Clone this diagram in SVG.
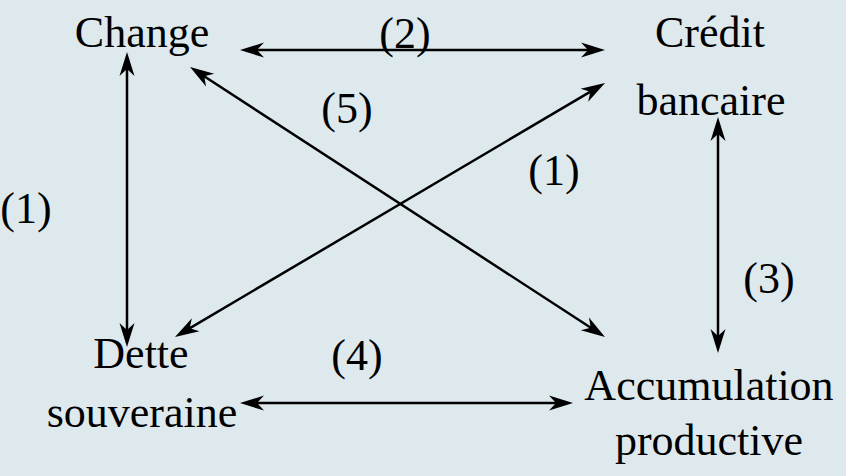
<svg xmlns="http://www.w3.org/2000/svg" width="846" height="476" viewBox="0 0 846 476">
  <style>
    .t { font-size: 44px; fill: #000; text-anchor: middle; }
    .c { stroke: #000; stroke-width: 2.5; fill: none; marker-start: url(#ah); marker-end: url(#ah); }
  </style>
  <defs>
    <marker id="ah" markerUnits="userSpaceOnUse" orient="auto-start-reverse" refX="0" refY="0" markerWidth="30" markerHeight="20" overflow="visible">
      <path d="M10,0 L-14,-7.5 L-7,0 L-14,7.5 Z" fill="#000"/>
    </marker>
  </defs>
  <rect width="846" height="476" fill="#DEE9EE"/>
  <g id="connectors">
    <line class="c" x1="250" y1="50" x2="595" y2="50"/>
    <line class="c" x1="127" y1="62" x2="127" y2="337"/>
    <line class="c" x1="198.4" y1="72.5" x2="596.6" y2="331.5"/>
    <line class="c" x1="596.4" y1="88.1" x2="183.6" y2="331.9"/>
    <line class="c" x1="718" y1="127" x2="718" y2="343"/>
    <line class="c" x1="250" y1="403" x2="563" y2="403"/>
  </g>
  <g font-family="'Liberation Serif', 'DejaVu Serif', serif">
  <g id="labels">
    <text class="t" x="405" y="48">(2)</text>
    <text class="t" x="347" y="123">(5)</text>
    <text class="t" x="554" y="185">(1)</text>
    <text class="t" x="26" y="223">(1)</text>
    <text class="t" x="769" y="293">(3)</text>
    <text class="t" x="357" y="370">(4)</text>
  </g>
  <g id="change">
    <text class="t" x="142" y="47">Change</text>
  </g>
  <g id="credit">
    <text class="t" x="710" y="47">Crédit</text>
    <text class="t" x="711" y="115">bancaire</text>
  </g>
  <g id="dette">
    <text class="t" x="141" y="368">Dette</text>
    <text class="t" x="142" y="427">souveraine</text>
  </g>
  <g id="accumulation">
    <text class="t" x="709" y="400">Accumulation</text>
    <text class="t" x="709" y="455">productive</text>
  </g>
  </g>
</svg>
